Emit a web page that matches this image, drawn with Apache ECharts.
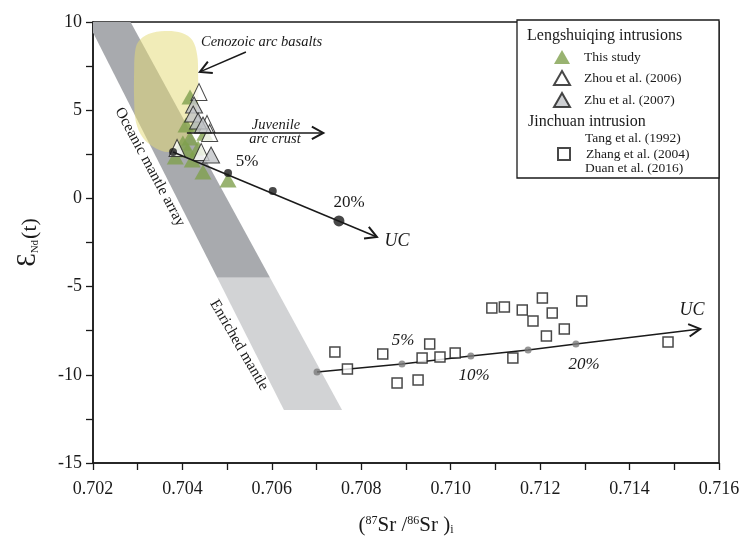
<!DOCTYPE html>
<html><head><meta charset="utf-8">
<script src="https://cdn.jsdelivr.net/npm/echarts@6/dist/echarts.min.js"></script>
<style>html,body{margin:0;padding:0;background:#fff}#c{width:745px;height:547px}</style>
</head><body><div id="c"></div>
<script>
// ---------- data ----------
const xTickValues = [0.702, 0.704, 0.706, 0.708, 0.710, 0.712, 0.714, 0.716];
const yTickValues = [-15, -10, -5, 0, 5, 10];

const oceanicMantleArray = [[0.702, 9.4], [0.702, 10], [0.70284, 10], [0.70596, -4.5], [0.70478, -4.5]];
const enrichedMantle = [[0.70478, -4.5], [0.70596, -4.5], [0.70757, -12], [0.70627, -12]];
const cenozoicArcBasalts = [
  [0.70301, 8.87], [0.70324, 9.32], [0.70361, 9.49], [0.70399, 9.38], [0.70422, 8.98],
  [0.70433, 8.13], [0.70435, 7.00], [0.70435, 5.58], [0.70428, 4.44], [0.70417, 3.59],
  [0.70390, 2.86], [0.70367, 2.63], [0.70339, 2.86], [0.70312, 3.42], [0.70296, 4.33],
  [0.70292, 5.58], [0.70292, 7.28], [0.70294, 8.30]
];

const thisStudy = [
  [0.70417, 5.75], [0.70408, 4.16], [0.70431, 4.20], [0.70450, 3.70], [0.70417, 3.42],
  [0.70401, 3.14], [0.70435, 2.86], [0.70384, 2.35], [0.70422, 2.18], [0.70412, 2.74],
  [0.70446, 1.50], [0.70502, 1.04]
];
const zhou2006 = [[0.70437, 6.03], [0.70455, 4.22], [0.70461, 3.71], [0.70388, 2.86], [0.70442, 2.63]];
const zhu2007 = [[0.70426, 5.29], [0.70424, 4.78], [0.70435, 4.39], [0.70446, 4.16], [0.70464, 2.46]];

const jinchuan = [
  [0.70741, -8.71], [0.70769, -9.67], [0.70848, -8.82], [0.70880, -10.47], [0.70927, -10.29],
  [0.70936, -9.05], [0.70953, -8.25], [0.70976, -8.99], [0.71010, -8.76], [0.71092, -6.21],
  [0.71120, -6.16], [0.71139, -9.05], [0.71160, -6.33], [0.71184, -6.95], [0.71205, -5.65],
  [0.71227, -6.50], [0.71214, -7.80], [0.71254, -7.40], [0.71293, -5.82], [0.71486, -8.14]
];

const mixUpper = [[0.70379, 2.63], [0.70502, 1.44], [0.70602, 0.42]];
const mixUpper20 = [[0.70750, -1.28]];
const mixUpperEnd = [0.70835, -2.19];
const mixLower = [[0.70701, -9.84], [0.70891, -9.39], [0.71045, -8.93], [0.71173, -8.59], [0.71280, -8.25]];
const mixLowerEnd = [0.71558, -7.40];

const pointerArrows = [
  [0.70542, 8.30, 0.70439, 7.17],   // Cenozoic arc basalts
  [0.70410, 3.71, 0.70715, 3.71]    // Juvenile arc crust
];

// ---------- chart ----------
const SERIF = "'Liberation Serif','Times New Roman',serif";
const INK = '#1a1a1a';
const chart = echarts.init(document.getElementById('c'));

function polySeries(pts, fill, z, smooth) {
  return {
    type: 'custom', coordinateSystem: 'cartesian2d', silent: true, clip: true, z: z,
    data: [pts[0]], encode: { x: 0, y: 1 },
    renderItem: (params, api) => ({
      type: 'polygon',
      shape: { points: pts.map(p => api.coord(p)), smooth: smooth || 0 },
      style: { fill: fill, stroke: 'none' }
    })
  };
}
function arrowSeries(segs, z, headOnly) {
  return {
    type: 'custom', coordinateSystem: 'cartesian2d', silent: true, clip: false, z: z,
    data: segs, encode: { x: [0, 2], y: [1, 3] },
    renderItem: (params, api) => {
      const p0 = api.coord([api.value(0), api.value(1)]);
      const p1 = api.coord([api.value(2), api.value(3)]);
      const a = Math.atan2(p1[1] - p0[1], p1[0] - p0[0]);
      const L = 13, w = 0.5;
      const h1 = [p1[0] - L * Math.cos(a - w), p1[1] - L * Math.sin(a - w)];
      const h2 = [p1[0] - L * Math.cos(a + w), p1[1] - L * Math.sin(a + w)];
      const ch = [{ type: 'polyline', shape: { points: [h1, p1, h2] }, style: { stroke: INK, lineWidth: 2, fill: 'none' } }];
      if (!headOnly) ch.unshift({ type: 'line', shape: { x1: p0[0], y1: p0[1], x2: p1[0], y2: p1[1] }, style: { stroke: INK, lineWidth: 1.5, fill: 'none' } });
      return { type: 'group', children: ch };
    }
  };
}
const tick = { lineStyle: { color: INK, width: 1.3 } };

function txt(x, y, s, size, italic, rot, align) {
  return {
    type: 'text', x: x, y: y, rotation: rot || 0, z: 20,
    style: { text: s, fontFamily: SERIF, fontSize: size, fontStyle: italic ? 'italic' : 'normal',
      fill: INK, align: align || 'center', verticalAlign: 'middle' }
  };
}

const option = {
  animation: false,
  backgroundColor: '#fff',
  grid: { left: 93, right: 26, top: 22, bottom: 84, show: true, borderColor: INK, borderWidth: 1.5,
    backgroundColor: 'transparent', outerBoundsMode: 'none', containLabel: false },
  xAxis: {
    type: 'value', min: xTickValues[0], max: xTickValues[xTickValues.length - 1], interval: 0.002,
    axisLine: { onZero: false, lineStyle: { color: INK, width: 1.5 } },
    axisTick: Object.assign({ length: 7 }, tick),
    minorTick: Object.assign({ show: true, splitNumber: 2, length: 7 }, tick),
    splitLine: { show: false }, minorSplitLine: { show: false },
    axisLabel: { fontFamily: SERIF, fontSize: 18, color: INK, margin: 17, formatter: v => v.toFixed(3) },
    name: '({sup|87}Sr /{sup|86}Sr ){sub|i}',
    nameLocation: 'middle', nameGap: 52,
    nameTextStyle: { fontFamily: SERIF, fontSize: 21, color: INK,
      rich: { sup: { fontSize: 12, fontFamily: SERIF, color: INK, verticalAlign: 'top', padding: [0, 0, 8, 0] },
              sub: { fontSize: 12, fontFamily: SERIF, color: INK, verticalAlign: 'bottom', padding: [8, 0, 0, 0] } } }
  },
  yAxis: {
    type: 'value', min: yTickValues[0], max: yTickValues[yTickValues.length - 1], interval: 5,
    axisLine: { onZero: false, lineStyle: { color: INK, width: 1.5 } },
    axisTick: Object.assign({ length: 7 }, tick),
    minorTick: Object.assign({ show: true, splitNumber: 2, length: 7 }, tick),
    splitLine: { show: false }, minorSplitLine: { show: false },
    axisLabel: { fontFamily: SERIF, fontSize: 18, color: INK, margin: 11 },
    name: '{e|Ɛ}{s|Nd}{t|(t)}',
    nameLocation: 'middle', nameGap: 52, nameRotate: 90,
    nameTextStyle: { fontFamily: SERIF, color: INK,
      rich: { e: { fontSize: 27, fontFamily: SERIF, color: INK, verticalAlign: 'bottom' },
              s: { fontSize: 11, fontFamily: SERIF, color: INK, verticalAlign: 'bottom', padding: [6, 1, 0, 0] },
              t: { fontSize: 22, fontFamily: SERIF, color: INK, verticalAlign: 'bottom' } } }
  },
  legend: [
    { orient: 'vertical', left: 553, top: 50, padding: 0, itemWidth: 16, itemHeight: 14, itemGap: 6, z: 10,
      data: ['This study', 'Zhou et al. (2006)', 'Zhu et al. (2007)'],
      textStyle: { fontFamily: SERIF, fontSize: 13.5, color: INK, padding: [0, 0, 0, 9] } },
    { orient: 'vertical', left: 557, top: 147, padding: 0, itemWidth: 12, itemHeight: 12, z: 10,
      data: ['Zhang et al. (2004)'],
      textStyle: { fontFamily: SERIF, fontSize: 13.5, color: INK, padding: [0, 0, 0, 11] } }
  ],
  graphic: [
    { type: 'rect', shape: { x: 517, y: 20, width: 202, height: 158 }, z: 5,
      style: { fill: '#fff', stroke: INK, lineWidth: 1.3 } },
    txt(527, 36, 'Lengshuiqing intrusions', 16, false, 0, 'left'),
    txt(528, 122, 'Jinchuan intrusion', 16, false, 0, 'left'),
    txt(585, 138, 'Tang et al. (1992)', 13.5, false, 0, 'left'),
    txt(585, 168, 'Duan et al. (2016)', 13.5, false, 0, 'left'),
    txt(201, 42, 'Cenozoic arc basalts', 14.5, true, 0, 'left'),
    txt(276, 125, 'Juvenile', 14.5, true),
    txt(275, 139, 'arc crust', 14.5, true),
    txt(150, 167, 'Oceanic mantle array', 15.5, false, -1.078),
    txt(239, 345, 'Enriched mantle', 15.5, false, -1.042),
    txt(247, 162, '5%', 17, false),
    txt(349, 203, '20%', 17, false),
    txt(397, 241, 'UC', 18, true),
    txt(403, 341, '5%', 17, true),
    txt(474, 376, '10%', 17, true),
    txt(584, 365, '20%', 17, true),
    txt(692, 310, 'UC', 18, true)
  ],
  series: [
    polySeries(oceanicMantleArray, '#a8aaae', 1),
    polySeries(enrichedMantle, '#d2d3d5', 1),
    polySeries(cenozoicArcBasalts, 'rgba(228,218,118,0.52)', 2, 0.35),
    { type: 'line', data: mixLower.concat([mixLowerEnd]), symbol: 'none', silent: true, z: 3,
      lineStyle: { color: INK, width: 1.5 } },
    arrowSeries([[mixLower[mixLower.length - 1][0], mixLower[mixLower.length - 1][1], mixLowerEnd[0], mixLowerEnd[1]]], 3, true),
    { type: 'scatter', data: mixLower, symbol: 'circle', symbolSize: 7, silent: true, z: 4,
      itemStyle: { color: '#7a7a7a' } },
    { type: 'scatter', name: 'This study', data: thisStudy, symbol: 'triangle', symbolSize: [17, 15], z: 5,
      itemStyle: { color: '#80a04e' } },
    { type: 'scatter', name: 'Zhou et al. (2006)', data: zhou2006, symbol: 'triangle', symbolSize: [16, 17], z: 6,
      itemStyle: { color: '#ffffff', borderColor: INK, borderWidth: 1 } },
    { type: 'scatter', name: 'Zhu et al. (2007)', data: zhu2007, symbol: 'triangle', symbolSize: [17, 16], z: 6,
      itemStyle: { color: '#c2c4c8', borderColor: INK, borderWidth: 1 } },
    { type: 'scatter', name: 'Zhang et al. (2004)', data: jinchuan, symbol: 'rect', symbolSize: 10, z: 6,
      itemStyle: { color: '#ffffff', borderColor: INK, borderWidth: 1.5 } },
    arrowSeries([[mixUpper[0][0], mixUpper[0][1], mixUpperEnd[0], mixUpperEnd[1]]], 7, false),
    arrowSeries(pointerArrows, 7, false),
    { type: 'scatter', data: mixUpper, symbol: 'circle', symbolSize: 8, silent: true, z: 8,
      itemStyle: { color: INK } },
    { type: 'scatter', data: mixUpper20, symbol: 'circle', symbolSize: 11, silent: true, z: 8,
      itemStyle: { color: INK } }
  ]
};
chart.setOption(option);
</script>
</body></html>
